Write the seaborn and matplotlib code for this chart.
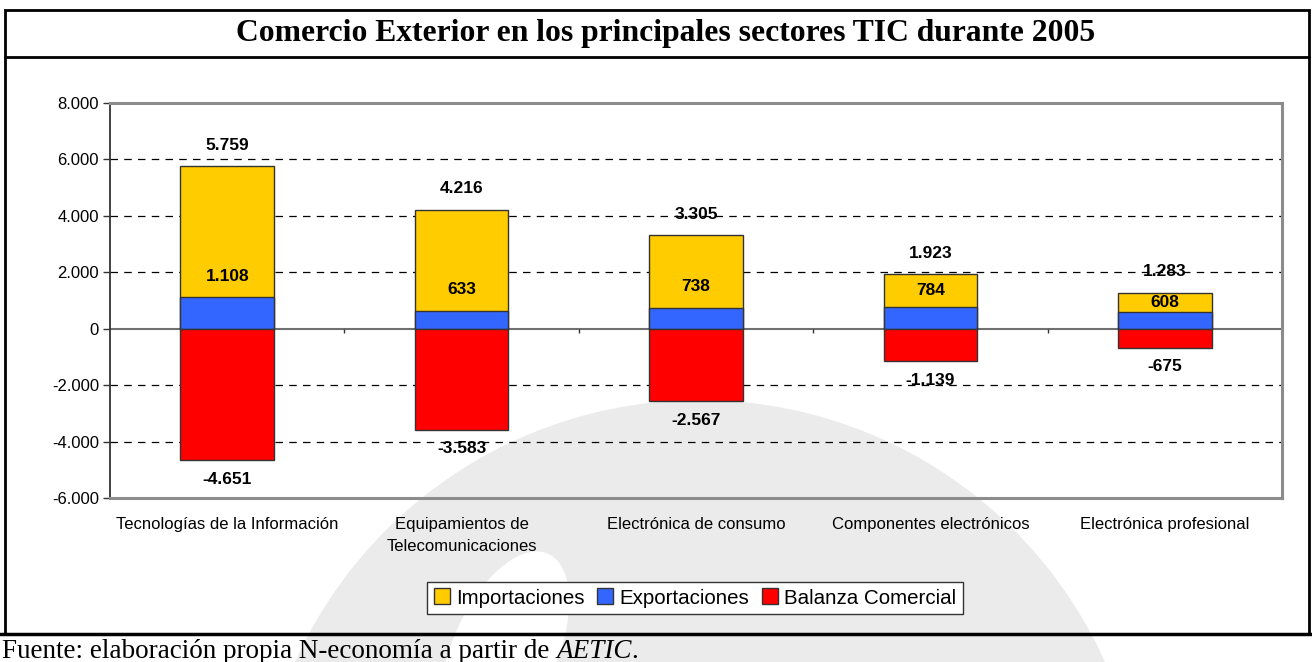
import pandas as pd
import numpy as np
import matplotlib
matplotlib.use('Agg')
import matplotlib.pyplot as plt
import seaborn as sns
from matplotlib.patches import Patch, Ellipse, Rectangle
from matplotlib.lines import Line2D
from matplotlib.ticker import FuncFormatter

# datos (millones de euros, 2005)
sectores = ['Tecnologías de la Información', 'Equipamientos de\nTelecomunicaciones',
            'Electrónica de consumo', 'Componentes electrónicos', 'Electrónica profesional']
importaciones = [5759, 4216, 3305, 1923, 1283]
exportaciones = [1108, 633, 738, 784, 608]
balanza = [-4651, -3583, -2567, -1139, -675]
series = ['Importaciones', 'Exportaciones', 'Balanza Comercial']
colores = ['#FFCC00', '#3366FF', '#FF0000']
yticks = [-6000, -4000, -2000, 0, 2000, 4000, 6000, 8000]

df = pd.DataFrame({
    'sector': sectores * 3,
    'serie': [series[0]] * 5 + [series[1]] * 5 + [series[2]] * 5,
    'valor': importaciones + exportaciones + balanza,
})


def miles(v):
    # formato español: punto como separador de miles
    return f'{int(v):,}'.replace(',', '.')


sns.set_style('white')
plt.rcParams['font.family'] = ['Liberation Sans', 'DejaVu Sans']
plt.rcParams.update({'text.color': 'black', 'xtick.color': 'black', 'ytick.color': 'black'})

fig = plt.figure(figsize=(13.12, 6.62), dpi=100)
W, H = 1312, 662

# marca de agua de fondo
fig.patches.append(Ellipse((700 / W, 1 - 844 / H), 888 / W, 888 / H, transform=fig.transFigure,
                           facecolor='#ebebeb', edgecolor='none', zorder=-2))
fig.patches.append(Ellipse((505 / W, 1 - 650 / H), 110 / W, 200 / H, angle=-10,
                           transform=fig.transFigure, facecolor='white', edgecolor='none', zorder=-1))

ax = fig.add_axes([110 / W, 1 - 498 / H, 1172 / W, 395 / H])
ax.set_facecolor('none')

sns.barplot(data=df, x='sector', y='valor', hue='serie', hue_order=series,
            palette=colores, dodge=False, width=0.4, saturation=1,
            edgecolor='#333333', linewidth=1, legend=False, ax=ax, zorder=3)

ax.set_ylim(-6000, 8000)
ax.set_xlim(-0.5, 4.5)
ax.set_yticks(yticks)
ax.yaxis.set_major_formatter(FuncFormatter(lambda v, p: miles(v)))
ax.tick_params(axis='y', labelsize=12, length=5, width=1, color='#333333', left=True, pad=3)
ax.tick_params(axis='x', labelsize=12, length=0, pad=14)
for lbl in ax.get_xticklabels():
    lbl.set_linespacing(1.55)
ax.set_xlabel('')
ax.set_ylabel('')

for v in yticks:
    if v in (0, 8000, -6000):
        continue
    ax.axhline(v, color='black', lw=0.9, ls=(0, (6, 5)), zorder=1)
ax.axhline(0, color='#707070', lw=1.5, zorder=2)
ax.vlines(np.arange(len(sectores) - 1) + 0.5, -150, 0, color='#333333', lw=1, zorder=2)

for side in ['top', 'right', 'bottom']:
    ax.spines[side].set_color('#8c8c8c')
    ax.spines[side].set_linewidth(2.2)
ax.spines['left'].set_color('#333333')
ax.spines['left'].set_linewidth(1.3)

# etiquetas de datos
off = 750
for i in range(len(sectores)):
    ax.text(i, importaciones[i] + off, miles(importaciones[i]), ha='center', va='center',
            fontsize=12.5, fontweight='bold', zorder=5)
    ye = min(exportaciones[i] + off, (exportaciones[i] + importaciones[i]) / 2)
    ax.text(i, ye, miles(exportaciones[i]), ha='center', va='center',
            fontsize=12.5, fontweight='bold', zorder=5)
    ax.text(i, balanza[i] - 680, miles(balanza[i]), ha='center', va='center',
            fontsize=12.5, fontweight='bold', zorder=5)

handles = [Patch(facecolor=c, edgecolor='#333333', label=s) for s, c in zip(series, colores)]
fig.legend(handles=handles, loc='center', bbox_to_anchor=(695 / W, 1 - 598 / H), ncol=3,
           frameon=True, fancybox=False, edgecolor='#333333', fontsize=14.8,
           handlelength=0.8, handleheight=0.8, handletextpad=0.3, columnspacing=0.6,
           borderpad=0.3, framealpha=1)

# marco, título y fuente
fig.patches.append(Rectangle((5 / W, 1 - 634 / H), 1304 / W, 624 / H, transform=fig.transFigure,
                             fill=False, edgecolor='black', lw=2, zorder=10))
fig.add_artist(Line2D([5 / W, 1309 / W], [1 - 57 / H, 1 - 57 / H], color='black', lw=2))
fig.add_artist(Line2D([0, 1], [1 - 634 / H, 1 - 634 / H], color='black', lw=2.5))
fig.text(666 / W, 1 - 33 / H, 'Comercio Exterior en los principales sectores TIC durante 2005',
         ha='center', va='center', fontsize=22.8, fontweight='bold', family='Liberation Serif')

fy = 1 - 651 / H
t1 = fig.text(2 / W, fy, 'Fuente: elaboración propia N-economía a partir de ',
              ha='left', va='center', fontsize=19.5, family='Liberation Serif')
fig.canvas.draw()
r = t1.get_window_extent()
t2 = fig.text(r.x1 / W, fy, 'AETIC', ha='left', va='center', fontsize=19.5,
              family='Liberation Serif', style='italic')
fig.canvas.draw()
r2 = t2.get_window_extent()
fig.text(r2.x1 / W, fy, '.', ha='left', va='center', fontsize=19.5, family='Liberation Serif')

fig.savefig('out.png', dpi=100)
